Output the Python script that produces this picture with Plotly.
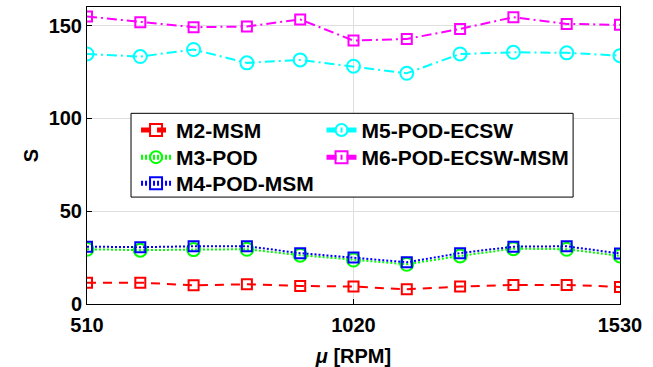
import plotly.graph_objects as go

# rotational speed samples [RPM]
mu = [510, 612, 714, 816, 918, 1020, 1122, 1224, 1326, 1428, 1530]

# speed-up S for each reduced model
s_m2 = [11.5, 11.5, 10.1, 10.6, 9.7, 9.4, 7.9, 9.4, 10.3, 10.3, 9.2]
s_m3 = [29.5, 29.0, 29.3, 29.5, 26.3, 23.7, 21.4, 25.9, 29.8, 29.5, 25.9]
s_m4 = [30.9, 30.6, 31.1, 31.1, 27.4, 25.0, 22.5, 27.4, 30.9, 31.1, 27.2]
s_m5 = [134.7, 133.3, 137.1, 129.9, 131.5, 128.1, 124.3, 134.7, 135.6, 135.3, 133.8]
s_m6 = [154.9, 151.8, 149.1, 149.5, 153.3, 141.9, 142.8, 148.2, 154.5, 150.9, 150.4]

x_ticks = [510, 1020, 1530]
y_ticks = [0, 50, 100, 150]

FONT = "Liberation Sans"
FS = 20
LEG_FS = 21

fig = go.Figure()

# name, values, colour, dash, marker, marker size, legend slot (column x, row y)
series = [
    ("M2-MSM", s_m2, "#ff0000", "9px,7px", "square-open", 10, "legend", 0.092, 0.5845),
    ("M3-POD", s_m3, "#00ff00", "2px,2px", "circle-open", 13, "legend2", 0.092, 0.4932),
    ("M4-POD-MSM", s_m4, "#0000ff", "2px,2px", "square-open", 10, "legend3", 0.092, 0.4054),
    ("M5-POD-ECSW", s_m5, "#00ffff", "10px,4px,2px,4px", "circle-open", 13, "legend4", 0.440, 0.5845),
    ("M6-POD-ECSW-MSM", s_m6, "#ff00ff", "10px,4px,2px,4px", "square-open", 10, "legend5", 0.440, 0.4932),
]

legend_layout = {}
for name, ys, col, dash, sym, size, leg, lx, ly in series:
    fig.add_trace(go.Scatter(
        x=mu, y=ys, name=name, mode="lines+markers",
        line=dict(color=col, width=2, dash=dash),
        marker=dict(symbol=sym, size=size, color=col, line=dict(color=col, width=2)),
        legend=leg,
    ))
    legend_layout[leg] = dict(
        x=lx, y=ly, xanchor="left", yanchor="middle",
        bgcolor="rgba(0,0,0,0)", borderwidth=0,
        font=dict(family=FONT, size=LEG_FS, color="black", weight="bold"),
        itemsizing="constant",
    )

fig.update_layout(
    width=653, height=367,
    margin=dict(l=87, r=33, t=7, b=63),
    paper_bgcolor="white", plot_bgcolor="white",
    font=dict(family=FONT, size=FS, color="black", weight="bold"),
    showlegend=True,
    shapes=[dict(
        type="rect", xref="paper", yref="paper",
        x0=0.0826, x1=0.912, y0=0.36, y1=0.642,
        line=dict(color="black", width=1), fillcolor="white", layer="above",
    )],
    **legend_layout,
)

fig.update_xaxes(
    range=[510, 1530], tickvals=x_ticks, ticktext=[str(v) for v in x_ticks],
    showgrid=True, gridcolor="#dedede", gridwidth=1,
    showline=True, linecolor="black", linewidth=1, mirror=True,
    ticks="inside", ticklen=5, tickcolor="black", zeroline=False,
    ticklabelstandoff=3, automargin=False,
    tickfont=dict(family=FONT, size=FS, color="black", weight="bold"),
    title=dict(text="<i>μ</i> [RPM]", standoff=15,
               font=dict(family=FONT, size=FS, color="black", weight="bold")),
)
fig.update_yaxes(
    range=[0, 160], tickvals=y_ticks, automargin=False,
    showgrid=True, gridcolor="#dedede", gridwidth=1,
    showline=True, linecolor="black", linewidth=1, mirror=True,
    ticks="inside", ticklen=5, tickcolor="black", zeroline=False,
    tickfont=dict(family=FONT, size=FS, color="black", weight="bold"),
    title=dict(text="S", standoff=4,
               font=dict(family=FONT, size=FS, color="black", weight="bold")),
)

fig.write_html("out.html")
